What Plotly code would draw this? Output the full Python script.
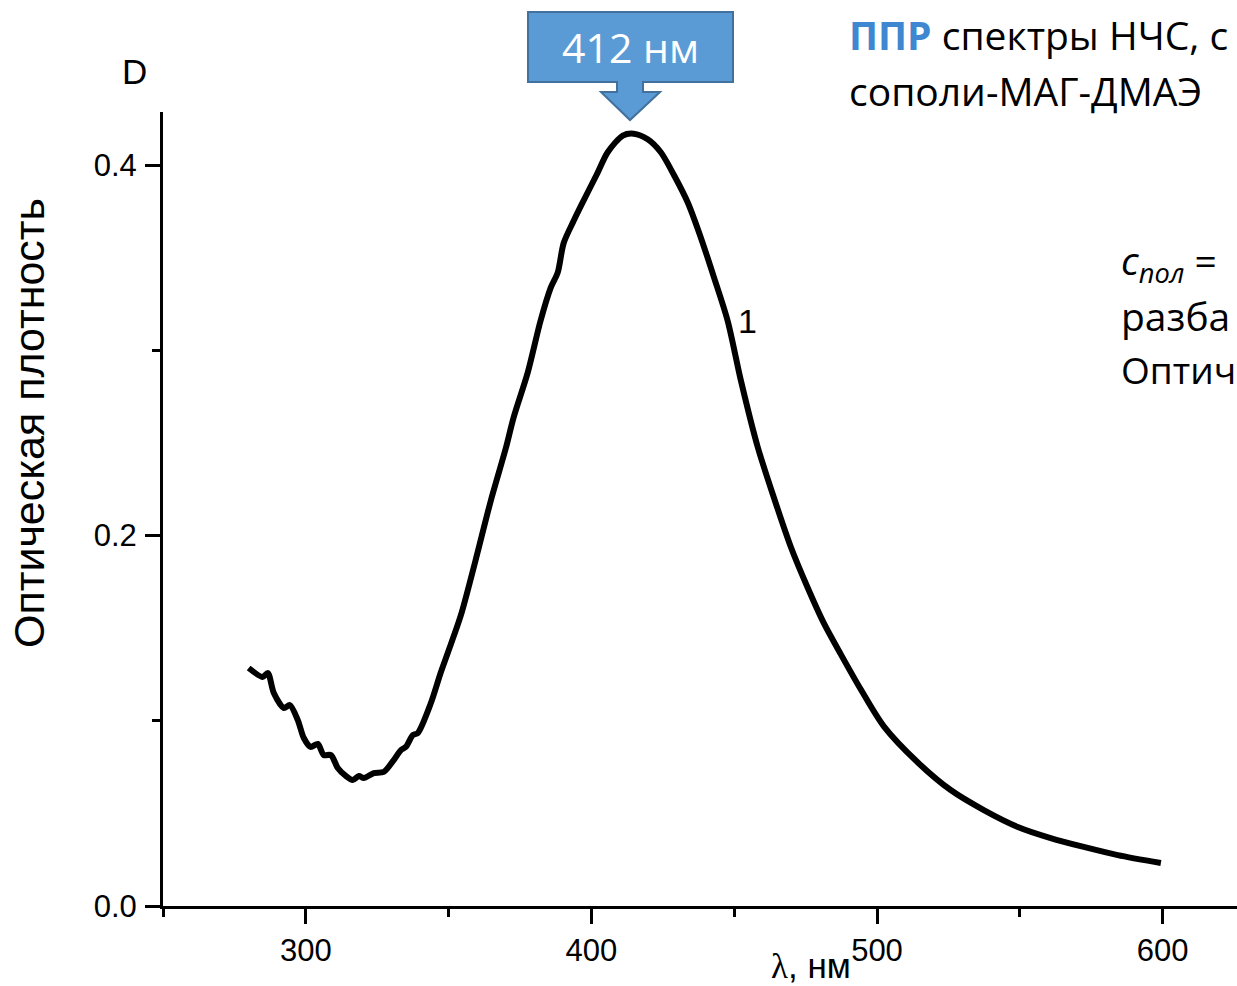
import plotly.graph_objects as go

# ---- data ----
wavelength_nm = [280.0, 284.9, 286.7, 288.8, 292.3, 294.4, 297.2, 299.3, 301.7, 304.2,
                 306.3, 308.8, 311.2, 314.0, 316.4, 318.6, 320.3, 323.8, 327.3, 330.8,
                 333.3, 335.0, 337.5, 339.2, 343.8, 347.2, 349.7, 354.3, 359.5, 364.8,
                 370.0, 372.8, 377.7, 382.2, 385.8, 388.2, 390.3, 393.8, 397.3, 402.2,
                 405.7, 411.0, 414.8, 419.7, 424.3, 428.8, 433.7, 438.3, 442.8, 447.7,
                 452.3, 458.2, 463.8, 469.8, 475.7, 481.3, 487.3, 494.3, 502.4, 514.3,
                 525.8, 537.4, 549.3, 560.8, 572.4, 584.3, 599.4]
optical_density = [0.1285, 0.1237, 0.1258, 0.1150, 0.1069, 0.1085, 0.1004, 0.0907, 0.0859, 0.0875,
                   0.0815, 0.0815, 0.0745, 0.0702, 0.0680, 0.0702, 0.0691, 0.0718, 0.0724, 0.0788,
                   0.0842, 0.0859, 0.0923, 0.0934, 0.1096, 0.1258, 0.1366, 0.157, 0.187, 0.219,
                   0.247, 0.264, 0.288, 0.316, 0.334, 0.342, 0.358, 0.370, 0.381, 0.396,
                   0.407, 0.416, 0.417, 0.414, 0.407, 0.395, 0.380, 0.361, 0.340, 0.316,
                   0.284, 0.248, 0.221, 0.194, 0.172, 0.153, 0.136, 0.117, 0.0970, 0.0775,
                   0.0626, 0.0518, 0.0427, 0.0367, 0.0319, 0.0275, 0.0232]
x_tick_vals = [300, 400, 500, 600]
x_tick_text = ["300", "400", "500", "600"]
y_tick_vals = [0.0, 0.2, 0.4]
y_tick_text = ["0.0", "0.2", "0.4"]
curve_label = "1"
peak_label = "412 нм"

W, H = 1237, 986
L, R, T, B = 163, 0, 112, 80
PW, PH = W - L - R, H - T - B


def px(x):
    return (x - L) / PW


def py(y):
    return (H - B - y) / PH


fig = go.Figure()
fig.add_trace(go.Scatter(
    x=wavelength_nm, y=optical_density, mode="lines",
    line=dict(color="black", width=6, shape="spline", smoothing=0.8),
    showlegend=False, hoverinfo="skip"))

AX_FONT = dict(family="Liberation Sans, Arial", size=31, color="black")

fig.update_layout(
    width=W, height=H,
    margin=dict(l=L, r=R, t=T, b=B, pad=0),
    paper_bgcolor="white", plot_bgcolor="white",
    showlegend=False,
    xaxis=dict(
        range=[250, 250 + PW / 2.856], showgrid=False, zeroline=False,
        showline=True, linecolor="black", linewidth=3,
        ticks="outside", ticklen=15, tickwidth=3, tickcolor="black",
        tickvals=x_tick_vals, ticktext=x_tick_text, tickfont=AX_FONT,
        ticklabelstandoff=0,
        minor=dict(ticks="outside", ticklen=8, tickwidth=3, tickcolor="black",
                   dtick=50, tick0=250, showgrid=False),
    ),
    yaxis=dict(
        range=[0, PH / 1852], showgrid=False, zeroline=False,
        showline=True, linecolor="black", linewidth=3,
        ticks="outside", ticklen=15, tickwidth=3, tickcolor="black",
        tickvals=y_tick_vals, ticktext=y_tick_text, tickfont=AX_FONT,
        ticklabelstandoff=2,
        minor=dict(ticks="outside", ticklen=8, tickwidth=3, tickcolor="black",
                   dtick=0.1, tick0=0, showgrid=False),
    ),
)

# arrow callout
pts = [(528, 12), (733, 12), (733, 82), (643, 82), (643, 92), (660, 92), (630, 120),
       (601, 92), (617, 92), (617, 82), (528, 82)]
path = "M " + " L ".join(f"{px(a):.5f},{py(b):.5f}" for a, b in pts) + " Z"
fig.add_shape(type="path", path=path, xref="paper", yref="paper",
              fillcolor="#5b9bd5", line=dict(color="#41719c", width=2), layer="above")

SLIDE_FONT = dict(family="Open Sans", size=39, color="black")
annots = [
    dict(x=px(630), y=py(47), text=peak_label,
         font=dict(family="Open Sans", size=41, color="white")),
    dict(x=px(134), y=py(71), text="D",
         font=dict(family="Liberation Sans, Arial", size=35, color="black")),
    dict(x=px(29), y=py(423), text="Оптическая плотность", textangle=-90,
         font=dict(family="Liberation Sans, Arial", size=43, color="black")),
    dict(x=px(811), y=py(966),
         text="<span style='font-family:Liberation Serif'>λ</span>, нм",
         font=dict(family="Liberation Sans, Arial", size=35, color="black")),
    dict(x=px(747), y=py(321), text=curve_label,
         font=dict(family="Liberation Sans, Arial", size=34, color="black")),
    dict(x=px(847), y=py(35), xanchor="left",
         text="<b><span style='color:#3f87d0'>ППР</span></b> спектры НЧС, с",
         font=SLIDE_FONT),
    dict(x=px(847), y=py(91), xanchor="left", text="сополи-МАГ-ДМАЭ",
         font=SLIDE_FONT),
    dict(x=px(1119), y=py(262), xanchor="left",
         text="<i>c</i><sub><i>пол</i></sub> =",
         font=SLIDE_FONT),
    dict(x=px(1119), y=py(315), xanchor="left", text="разба",
         font=SLIDE_FONT),
    dict(x=px(1119), y=py(370), xanchor="left", text="Оптич",
         font=dict(family="Open Sans", size=37, color="black")),
]
for a in annots:
    a.setdefault("xanchor", "center")
    fig.add_annotation(xref="paper", yref="paper", showarrow=False, yanchor="middle", **a)

fig.write_html("out.html", config={"displayModeBar": False},
               post_script="document.body.style.margin='0';")
